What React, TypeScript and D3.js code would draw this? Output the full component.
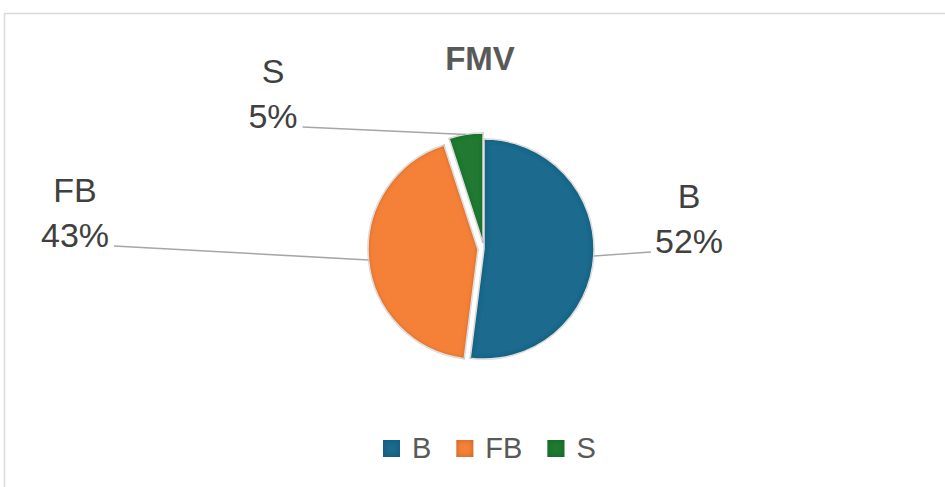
import React, { useEffect, useRef } from 'react';
import * as d3 from 'd3';

// data
const categories = ['B', 'FB', 'S'];
const values = [52, 43, 5];
const palette = ['#1d6a8d', '#f58139', '#217a32'];
const exploded = [0, 6, 6];
// label anchors: centre of the % line and its baseline
const labelAnchors = [
  { x: 689, y: 253 },
  { x: 75, y: 247 },
  { x: 273, y: 128 },
];

const W = 945;
const H = 487;
const font = '"Liberation Sans", Arial, sans-serif';

const App: React.FC = () => {
  const svgRef = useRef<SVGSVGElement>(null);

  useEffect(() => {
    if (!svgRef.current) return;
    const svg = d3.select(svgRef.current);
    svg.selectAll('*').remove();

    const defs = svg.append('defs');
    const f = defs.append('filter').attr('id', 'bevel')
      .attr('x', '-10%').attr('y', '-10%').attr('width', '120%').attr('height', '120%');
    f.append('feComponentTransfer').attr('in', 'SourceAlpha').attr('result', 'inv')
      .append('feFuncA').attr('type', 'table').attr('tableValues', '1 0');
    f.append('feGaussianBlur').attr('in', 'inv').attr('stdDeviation', 2.5).attr('result', 'blur');
    f.append('feFlood').attr('flood-color', '#000').attr('flood-opacity', 0.7).attr('result', 'col');
    f.append('feComposite').attr('in', 'col').attr('in2', 'blur').attr('operator', 'in').attr('result', 'sh');
    f.append('feComposite').attr('in', 'sh').attr('in2', 'SourceAlpha').attr('operator', 'in').attr('result', 'inner');
    const m = f.append('feMerge');
    m.append('feMergeNode').attr('in', 'SourceGraphic');
    m.append('feMergeNode').attr('in', 'inner');

    // chart area border (only top & left visible)
    svg.append('rect')
      .attr('x', 4.5).attr('y', 13.5)
      .attr('width', W + 20).attr('height', H + 20)
      .attr('fill', 'white')
      .attr('stroke', '#d9d9d9').attr('stroke-width', 1.5);

    // title
    svg.append('text')
      .attr('x', 480).attr('y', 70)
      .attr('text-anchor', 'middle')
      .style('font-family', font).style('font-weight', 'bold')
      .style('font-size', '33px').attr('fill', '#595959')
      .text('FMV');

    const cx = 484;
    const cy = 249;
    const r = 110;

    const pie = d3.pie<number>().sort(null).value(d => d);
    const arcs = pie(values);
    const arc = d3.arc<d3.PieArcDatum<number>>().innerRadius(0).outerRadius(r);

    const g = svg.append('g').attr('transform', `translate(${cx},${cy})`);

    const offset = (d: d3.PieArcDatum<number>, i: number) => {
      const a = (d.startAngle + d.endAngle) / 2;
      return [Math.sin(a) * exploded[i], -Math.cos(a) * exploded[i]];
    };

    g.selectAll('path.slice')
      .data(arcs)
      .enter()
      .append('path')
      .attr('class', 'slice')
      .attr('transform', (d, i) => {
        const [dx, dy] = offset(d, i);
        return `translate(${dx},${dy})`;
      })
      .attr('d', arc)
      .attr('fill', (d, i) => palette[i])
      .attr('stroke', 'white')
      .attr('stroke-width', 1.5)
      .attr('filter', 'url(#bevel)');

    // data labels with leader lines
    arcs.forEach((d, i) => {
      const a = (d.startAngle + d.endAngle) / 2;
      const [dx, dy] = offset(d, i);
      const sx = cx + dx + Math.sin(a) * r;
      const sy = cy + dy - Math.cos(a) * r;
      const anchor = labelAnchors[i];

      const lab = svg.append('g');
      lab.append('text')
        .attr('x', anchor.x).attr('y', anchor.y - 45)
        .attr('text-anchor', 'middle')
        .style('font-family', font).style('font-size', '34px')
        .attr('fill', '#404040')
        .text(categories[i]);
      const pct = lab.append('text')
        .attr('x', anchor.x).attr('y', anchor.y)
        .attr('text-anchor', 'middle')
        .style('font-family', font).style('font-size', '34px')
        .attr('fill', '#404040')
        .text(`${d3.format('.0f')(values[i] / d3.sum(values) * 100)}%`);
      const tw = (pct.node() as SVGTextElement).getComputedTextLength();
      const right = anchor.x > sx;
      const ex = right ? anchor.x - tw / 2 - 4 : anchor.x + tw / 2 + 5;
      const ey = anchor.y - 1;

      svg.append('line')
        .attr('x1', sx).attr('y1', sy)
        .attr('x2', ex).attr('y2', ey)
        .attr('stroke', '#a6a6a6').attr('stroke-width', 1.5);
    });

    // legend
    const legend = svg.append('g').attr('transform', 'translate(383,440)');
    let lx = 0;
    categories.forEach((c, i) => {
      legend.append('rect')
        .attr('x', lx).attr('y', 0)
        .attr('width', 17).attr('height', 17)
        .attr('fill', palette[i])
        .attr('filter', 'url(#bevel)');
      const t = legend.append('text')
        .attr('x', lx + 29).attr('y', 17.5)
        .style('font-family', font).style('font-size', '29px')
        .attr('fill', '#595959')
        .text(c);
      const w = (t.node() as SVGTextElement).getComputedTextLength();
      lx += 29 + w + 25;
    });
  }, []);

  return (
    <div style={{ position: 'fixed', left: 0, top: 0, width: W, height: H, background: 'white' }}>
      <svg ref={svgRef} width={W} height={H} viewBox={`0 0 ${W} ${H}`} />
    </div>
  );
};

export default App;
